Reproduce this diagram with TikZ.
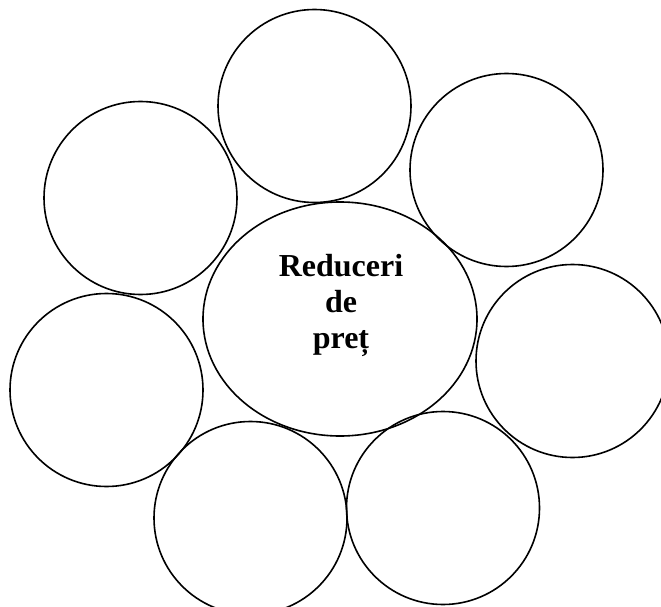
\documentclass[tikz,border=0pt]{standalone}
\usepackage{fontspec}
\setmainfont{Liberation Serif}
\usetikzlibrary{shapes.geometric}
\tikzset{
  petal/.style={
    circle,
    draw=black,
    line width=1.6pt,
    minimum size=193pt,
    inner sep=0pt
  },
  core/.style={
    ellipse,
    draw=black,
    line width=1.6pt,
    minimum width=274pt,
    minimum height=234pt,
    inner sep=0pt
  },
  corelabel/.style={
    align=center,
    inner sep=0pt,
    font=\fontsize{32}{36}\selectfont\bfseries
  }
}
\begin{document}
\begin{tikzpicture}[x=1pt,y=-1pt]
        \clip (0,0) rectangle (661,607);
        \node[core] (core) at (340,319) {};
        \node[corelabel] (label) at (341,305) {Reduceri\\de\\preț};

        \node[petal] (top) at (314.5,106) {};
        \node[petal] (upright) at (506.5,170) {};
        \node[petal] (right) at (572.5,361) {};
        \node[petal] (lowright) at (443,508) {};
        \node[petal] (lowleft) at (250.5,518) {};
        \node[petal] (left) at (106.5,390) {};
        \node[petal] (upleft) at (140.5,198) {};
      \end{tikzpicture}
\end{document}
